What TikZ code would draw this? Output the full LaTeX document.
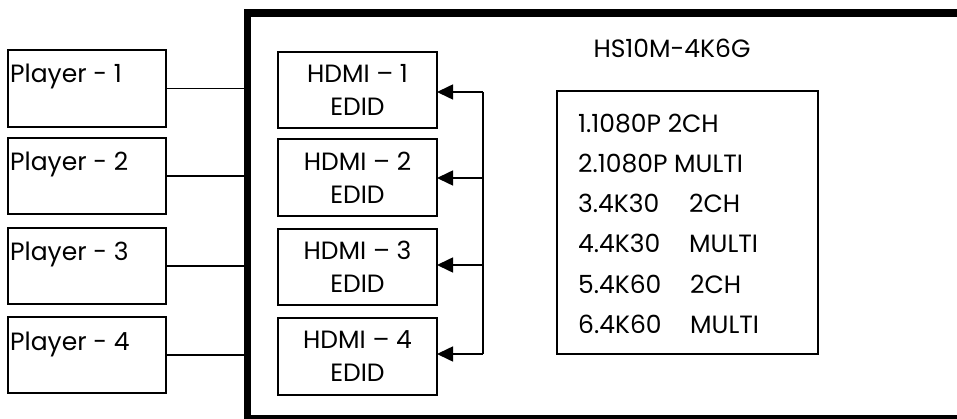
\documentclass[tikz,border=0pt]{standalone}
\usepackage{fontspec}
\setmainfont{Poppins}
\usetikzlibrary{arrows.meta}
\begin{document}
\begin{tikzpicture}[x=1pt,y=-1pt,
  thinline/.style={line width=1.6},
  box/.style={draw,line width=1.6,inner sep=0,outer sep=0},
  txt/.style={inner sep=0,font=\fontsize{25}{33}\selectfont},
  arr/.style={line width=1.6,-{Triangle[length=16,width=15]}}]
\clip (0,0) rectangle (957,419);
% frame
\draw[line width=7.5] (1010,13) -- (247.5,13) -- (247.5,418.5) -- (1010,418.5);
\coordinate (bar) at (244,0);
% players
\foreach \i/\t/\b in {1/50/127,2/138/214,3/228/304,4/317/393}{
  \node[box,minimum width=158,minimum height={\b-\t},anchor=north west] (p\i) at (8,\t) {};
  \node[txt,anchor=base west] (pt\i) at (10,\t+33) {Player - \i};
  \draw[thinline] (p\i.east) -- (p\i.east -| bar);
}
% hdmi
\foreach \i/\t/\b in {1/52/128,2/139/216,3/229/305,4/318/395}{
  \node[box,minimum width=159,minimum height={\b-\t},anchor=north west,align=center,font=\fontsize{25}{33}\selectfont] (h\i) at (278,\t) {HDMI – \i\\EDID};
}
\coordinate (v1) at (483,92);
\coordinate (v2) at (483,178);
\coordinate (v3) at (483,265);
\coordinate (v4) at (483,354);
\draw[thinline] (v1) -- (v4);
\foreach \i in {1,2,3,4}{
  \draw[arr] (v\i) -- (v\i -| h\i.east);
}
% title
\node[txt,anchor=base] (title) at (672,58) {HS10M-4K6G};
% list
\node[box,minimum width=261,minimum height=263,anchor=north west] (list) at (557,91) {};
\node[txt,anchor=base west] (l1) at (578,133) {1.1080P 2CH};
\node[txt,anchor=base west] (l2) at (578,173) {2.1080P MULTI};
\node[txt,anchor=base west] (l3) at (578,213) {\makebox[111pt][l]{3.4K30}2CH};
\node[txt,anchor=base west] (l4) at (578,253) {\makebox[111pt][l]{4.4K30}MULTI};
\node[txt,anchor=base west] (l5) at (578,293) {\makebox[112pt][l]{5.4K60}2CH};
\node[txt,anchor=base west] (l6) at (578,333) {\makebox[112pt][l]{6.4K60}MULTI};
\end{tikzpicture}
\end{document}
